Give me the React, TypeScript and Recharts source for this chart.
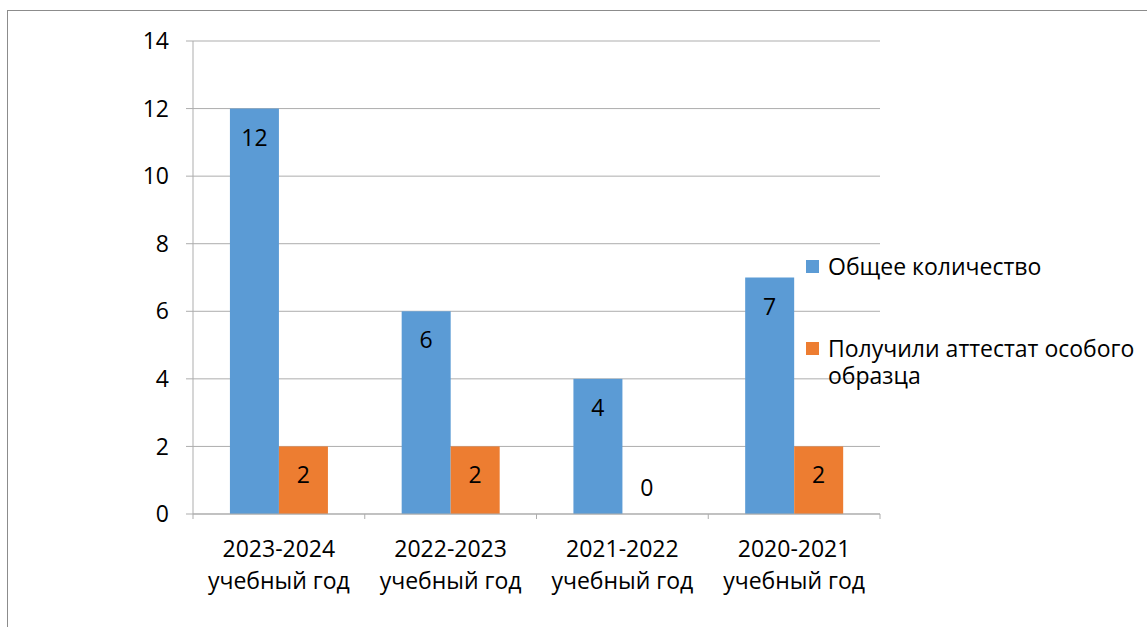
import { BarChart, Bar, XAxis, YAxis, CartesianGrid, Legend, LabelList } from "recharts";

const categories = ["2023-2024 учебный год", "2022-2023 учебный год", "2021-2022 учебный год", "2020-2021 учебный год"];
const totalCount = [12, 6, 4, 7];
const honorsCount = [2, 2, 0, 2];
const yTicks = [0, 2, 4, 6, 8, 10, 12, 14];

const SERIES = [
  { key: "total", label: "Общее количество", color: "#5B9BD5" },
  { key: "honors", label: "Получили аттестат особого образца", color: "#ED7D31" },
];

const data = categories.map((name, i) => ({
  name,
  total: totalCount[i],
  honors: honorsCount[i],
}));

const FONT = "'Open Sans', sans-serif";
const FS = 23;
const GRID = "#ADADAD";

function CategoryTick(props: any) {
  const { x, y, payload, index } = props;
  const half = payload?.offset ?? 0;
  const [line1, ...rest] = String(payload.value).split(" ");
  return (
    <g>
      <line x1={x - half} y1={y} x2={x - half} y2={y + 5} stroke={GRID} />
      {index === categories.length - 1 && (
        <line x1={x + half} y1={y} x2={x + half} y2={y + 5} stroke={GRID} />
      )}
      <text x={x} y={y + 34} textAnchor="middle" dominantBaseline="central" fontSize={FS} fontFamily={FONT} fill="#000">
        {line1}
      </text>
      <text x={x} y={y + 66} textAnchor="middle" dominantBaseline="central" fontSize={FS} fontFamily={FONT} fill="#000">
        {rest.join(" ")}
      </text>
    </g>
  );
}

// zero-valued bars get a 1px min size so the label still renders; skip drawing the rect
function BarShape(props: any) {
  const { x, y, width, height, fill, value } = props;
  const v = Array.isArray(value) ? value[1] - value[0] : value;
  if (!v) return <g />;
  return <rect x={x} y={y} width={width} height={height} fill={fill} />;
}

function ValueLabel(props: any) {
  const { x, y, width, height, value } = props;
  const cy = value > 0 ? y + 28 : y + height - 27;
  return (
    <text x={x + width / 2} y={cy} textAnchor="middle" dominantBaseline="central" fontSize={FS} fontFamily={FONT} fill="#000">
      {value}
    </text>
  );
}

function LegendBox() {
  return (
    <div style={{ fontFamily: FONT, fontSize: FS, color: "#000", lineHeight: "27px" }}>
      {SERIES.map((s, i) => (
        <div key={s.key} style={{ display: "flex", alignItems: "flex-start", marginTop: i === 0 ? 0 : 55 }}>
          <span style={{ width: 13, height: 13, background: s.color, marginTop: 7, marginRight: 9, flexShrink: 0 }} />
          <span style={{ width: 320 }}>{s.label}</span>
        </div>
      ))}
    </div>
  );
}

export default function App() {
  return (
    <div style={{ position: "absolute", left: 0, top: 0, width: 1147, height: 627, background: "#fff" }}>
      <div
        style={{
          position: "absolute",
          left: 7,
          top: 10,
          width: 1140,
          height: 617,
          borderLeft: "1px solid #8C8C8C",
          borderTop: "1px solid #8C8C8C",
        }}
      />
      <BarChart
        width={1147}
        height={627}
        data={data}
        margin={{ top: 41, right: 267, left: 133, bottom: 33 }}
        barCategoryGap="21.5%"
        barGap={0}
      >
        <CartesianGrid vertical={false} stroke={GRID} />
        <XAxis
          dataKey="name"
          height={80}
          stroke={GRID}
          tickLine={false}
          tickSize={0}
          tickMargin={0}
          interval={0}
          tick={<CategoryTick />}
        />
        <YAxis
          width={60}
          domain={[0, 14]}
          ticks={yTicks}
          stroke={GRID}
          tickSize={7}
          tickMargin={17}
          tick={{ fontSize: FS, fontFamily: FONT, fill: "#000" }}
        />
        <Legend
          layout="vertical"
          align="center"
          verticalAlign="middle"
          wrapperStyle={{ left: 806, top: 253, width: 341 }}
          content={<LegendBox />}
        />
        {SERIES.map((s) => (
          <Bar
            key={s.key}
            dataKey={s.key}
            name={s.label}
            fill={s.color}
            minPointSize={1}
            shape={<BarShape />}
            isAnimationActive={false}
          >
            <LabelList dataKey={s.key} content={<ValueLabel />} />
          </Bar>
        ))}
      </BarChart>
    </div>
  );
}
